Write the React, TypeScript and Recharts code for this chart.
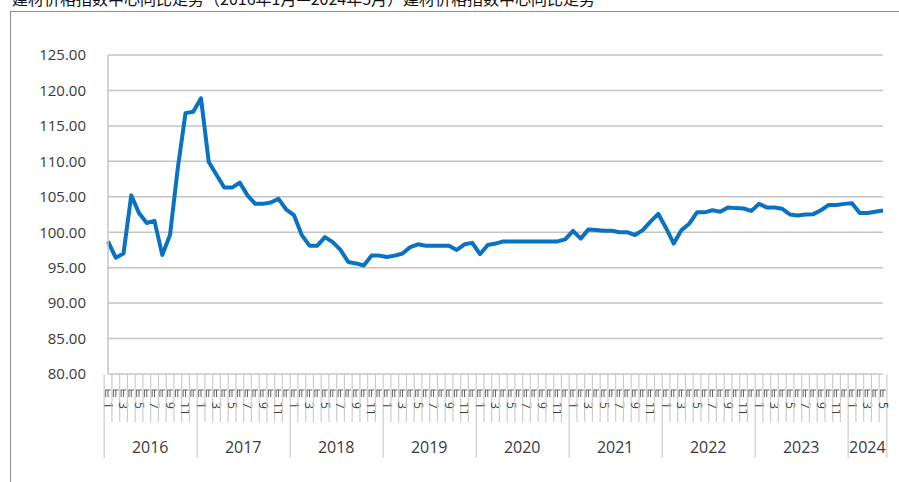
import { CartesianGrid, Line, LineChart, XAxis, YAxis } from "recharts";

const years = [2016, 2017, 2018, 2019, 2020, 2021, 2022, 2023, 2024];

const values2016 = [98.7, 96.4, 97.0, 105.2, 102.7, 101.3, 101.6, 96.8, 99.6, 109.0, 116.8, 117.0];
const values2017 = [118.9, 109.9, 108.1, 106.3, 106.3, 107.0, 105.2, 104.0, 104.0, 104.2, 104.7, 103.2];
const values2018 = [102.4, 99.6, 98.1, 98.1, 99.3, 98.6, 97.5, 95.8, 95.6, 95.3, 96.7, 96.7];
const values2019 = [96.5, 96.7, 97.0, 97.9, 98.3, 98.1, 98.1, 98.1, 98.1, 97.5, 98.3, 98.5];
const values2020 = [96.9, 98.2, 98.4, 98.7, 98.7, 98.7, 98.7, 98.7, 98.7, 98.7, 98.7, 99.0];
const values2021 = [100.2, 99.1, 100.4, 100.3, 100.2, 100.2, 100.0, 100.0, 99.6, 100.3, 101.5, 102.6];
const values2022 = [100.6, 98.4, 100.3, 101.2, 102.8, 102.8, 103.1, 102.9, 103.5, 103.4, 103.35, 103.0];
const values2023 = [104.0, 103.5, 103.5, 103.3, 102.5, 102.35, 102.5, 102.55, 103.1, 103.85, 103.85, 104.0];
const values2024 = [104.1, 102.7, 102.7, 102.9, 103.05];

const yTicks = [80, 85, 90, 95, 100, 105, 110, 115, 120, 125];

const yearValues = [
  values2016, values2017, values2018, values2019, values2020,
  values2021, values2022, values2023, values2024,
];

const data = yearValues.flatMap((vals, yi) =>
  vals.map((v, mi) => ({
    key: `${years[yi]}-${mi + 1}`,
    year: years[yi],
    month: mi + 1,
    value: v,
  }))
);

const W = 899;
const H = 482;
const margin = { top: 55, right: 16, bottom: 0, left: 0 };
const X_AXIS_H = 108;
const Y_AXIS_W = 108;
const PLOT_W = W - margin.right - Y_AXIS_W;
const BAND = PLOT_W / data.length;

const gridColor = "#c4c4c4";
const tickColor = "#cccccc";
const textColor = "#3a3a3a";
const font = "'Open Sans', 'Noto Sans', sans-serif";

function MonthTick(props: any) {
  const { x, y, index } = props;
  const d = data[index];
  if (!d) return null;
  const left = x - BAND / 2;
  const isYearStart = d.month === 1;
  const isLast = index === data.length - 1;
  const n = data.filter((e) => e.year === d.year).length;
  return (
    <g>
      <line x1={left} x2={left} y1={y} y2={isYearStart ? y + 84 : y + 48} stroke={tickColor} strokeWidth={1.2} />
      {isLast && (
        <line x1={x + BAND / 2} x2={x + BAND / 2} y1={y} y2={y + 84} stroke={tickColor} strokeWidth={1.2} />
      )}
      <path
        d={`M${left + 1},${y + 16} H${left + BAND - 1} M${left + 1.5},${y + 16} V${y + 23} M${x},${y + 16} V${y + 23}`}
        stroke="#555"
        strokeWidth={0.9}
        fill="none"
      />
      {d.month % 2 === 1 && (
        <text
          transform={`translate(${x},${y + 28}) rotate(90)`}
          dominantBaseline="central"
          fontSize={12}
          fontFamily={font}
          fill={textColor}
        >
          {d.month}
        </text>
      )}
      {isYearStart && (
        <text
          x={x + ((n - 1) / 2) * BAND}
          y={y + 73}
          textAnchor="middle"
          dominantBaseline="central"
          fontSize={16}
          fontFamily={font}
          fill={textColor}
        >
          {d.year}
        </text>
      )}
    </g>
  );
}

export default function App() {
  return (
    <div style={{ position: "absolute", left: 0, top: 0, width: W, height: H, background: "#fff", overflow: "hidden" }}>
      <div
        style={{
          position: "absolute",
          left: 12,
          top: -10,
          fontSize: 16,
          lineHeight: "16px",
          whiteSpace: "nowrap",
          color: "#111",
          fontFamily: "'Noto Sans CJK SC', sans-serif",
        }}
      >
        建材价格指数中心同比走势（2016年1月—2024年5月）建材价格指数中心同比走势
      </div>
      <div
        style={{
          position: "absolute",
          left: 10,
          top: 11,
          width: W,
          height: H,
          borderLeft: "1px solid #8c8c8c",
          borderTop: "1px solid #8c8c8c",
        }}
      />
      <div style={{ position: "absolute", left: 0, top: 0 }}>
        <LineChart width={W} height={H} data={data} margin={margin}>
          <CartesianGrid vertical={false} stroke={gridColor} strokeWidth={1.5} />
          <XAxis
            dataKey="key"
            interval={0}
            axisLine={false}
            tickLine={false}
            tickSize={0}
            tickMargin={0}
            height={X_AXIS_H}
            tick={<MonthTick />}
          />
          <YAxis
            domain={[80, 125]}
            ticks={yTicks}
            width={Y_AXIS_W}
            tickLine={false}
            tickSize={0}
            tickMargin={22}
            axisLine={{ stroke: gridColor, strokeWidth: 1.5 }}
            tickFormatter={(v: number) => v.toFixed(2)}
            tick={{ fill: textColor, fontSize: 15, fontFamily: font }}
          />
          <Line
            type="linear"
            dataKey="value"
            stroke="#0a72c2"
            strokeWidth={4}
            strokeLinejoin="round"
            dot={false}
            isAnimationActive={false}
          />
        </LineChart>
      </div>
    </div>
  );
}
